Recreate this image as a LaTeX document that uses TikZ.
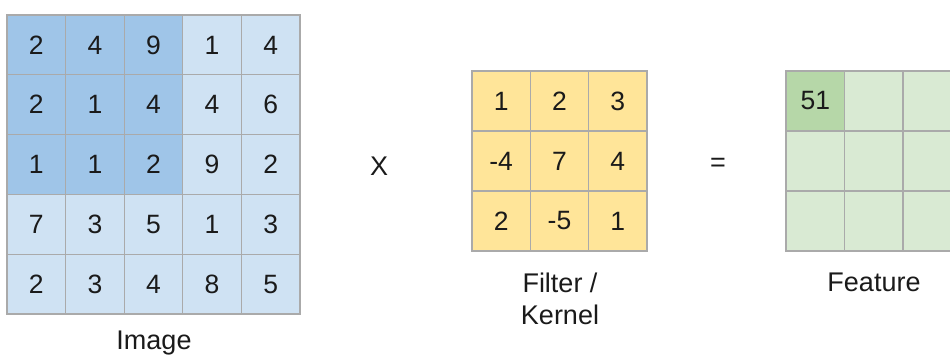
\documentclass[tikz,border=0pt]{standalone}
\usepackage{fontspec}
\setmainfont{Liberation Sans}
\definecolor{bluedark}{HTML}{9FC5E8}
\definecolor{bluelight}{HTML}{CFE2F3}
\definecolor{yellowcell}{HTML}{FFE599}
\definecolor{greendark}{HTML}{B6D7A8}
\definecolor{greenlight}{HTML}{D9EAD3}
\definecolor{gridgray}{HTML}{AAAAAA}
\definecolor{textcol}{HTML}{1A1A1A}
\begin{document}
\begin{tikzpicture}[x=1pt,y=-1pt,
  cell/.style={draw=gridgray, line width=1.3pt, minimum width=58.6pt, minimum height=59.8pt,
    inner sep=0pt, outer sep=0pt, anchor=north west, text=textcol,
    font=\fontsize{26.5}{30}\selectfont},
  lbl/.style={text=textcol, font=\fontsize{27}{32}\selectfont, align=center, inner sep=0pt}]
\useasboundingbox (0,0) rectangle (950,358);
\clip (0,0) rectangle (950,358);
% Image grid
\foreach \r/\rowvals in {0/{2,4,9,1,4},1/{2,1,4,4,6},2/{1,1,2,9,2},3/{7,3,5,1,3},4/{2,3,4,8,5}}{
  \foreach \v [count=\c from 0] in \rowvals {
    \ifnum\r<3 \ifnum\c<3 \def\cf{bluedark}\else\def\cf{bluelight}\fi\else\def\cf{bluelight}\fi
    \node[cell, fill=\cf] (img-\r-\c) at ({7+\c*58.6},{15+\r*59.8}) {\v};
  }
}
% Filter grid
\foreach \r/\rowvals in {0/{1,2,3},1/{-4,7,4},2/{2,-5,1}}{
  \foreach \v [count=\c from 0] in \rowvals {
    \node[cell, fill=yellowcell, minimum width=58.3pt, minimum height=60pt] (ker-\r-\c) at ({472+\c*58.3},{71+\r*60}) {\v};
  }
}
% Feature grid
\foreach \r in {0,1,2}{
  \foreach \c in {0,1,2}{
    \ifnum\r=0 \ifnum\c=0 \def\cf{greendark}\def\tv{51}\else\def\cf{greenlight}\def\tv{}\fi\else\def\cf{greenlight}\def\tv{}\fi
    \node[cell, fill=\cf, minimum width=58.5pt, minimum height=60pt] (feat-\r-\c) at ({786+\c*58.5},{71+\r*60}) {\tv};
  }
}
% Labels
\node[lbl] (imglabel) at (154,343) {Image};
\node[lbl] (kerlabel) at (560,299) {Filter /\\Kernel};
\node[lbl] (featlabel) at (874,282) {Feature};
\node[lbl] (times) at (379,166) {X};
\node[lbl] (equals) at (718,165) {=};
\end{tikzpicture}
\end{document}
